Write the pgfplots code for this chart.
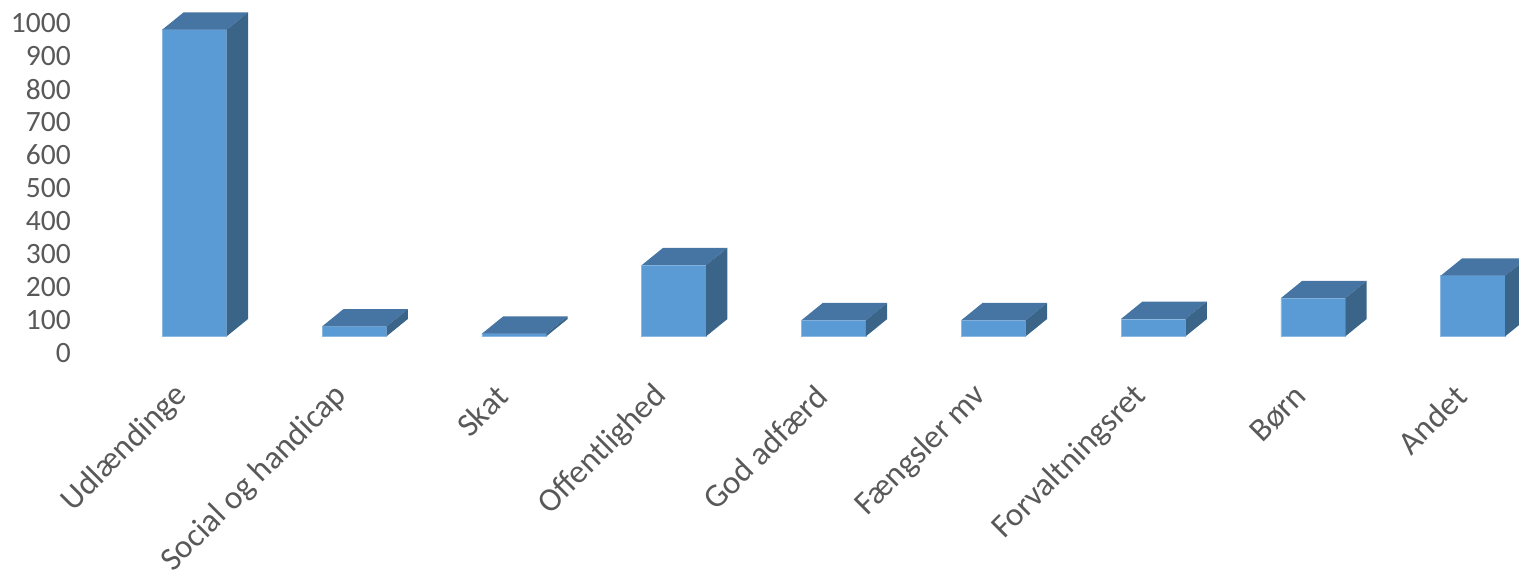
\documentclass[border=0pt]{standalone}
\usepackage{fontspec}
\setmainfont{Carlito}
\usepackage{pgfplots}
\usepackage{pgfplotstable}
\pgfplotsset{compat=1.18}

\definecolor{front}{HTML}{5B9BD5}
\definecolor{topface}{HTML}{4675A3}
\definecolor{sideface}{HTML}{3A6589}
\definecolor{labelgray}{HTML}{595959}

\pgfplotstableread{
x v
0 931
1 30
2 8
3 216
4 49
5 49
6 53
7 116
8 184
}\cases

\begin{document}
\begin{tikzpicture}
\path[use as bounding box] (0,0) rectangle (1519pt,574pt);
\begin{axis}[at={(0,0)},anchor=south west,
	scale only axis,width=1519pt,height=574pt,
	xmin=-1.2171,xmax=8.2885,ymin=-721.6,ymax=1021,
	axis line style={draw=none},major tick length=0pt,
	ytick={0,100,...,1000},
	xtick={0,...,8},
	xticklabels={Udlændinge,Social og handicap,Skat,Offentlighed,God adfærd,Fængsler mv,Forvaltningsret,Børn,Andet},
	scaled ticks=false,
	/pgf/number format/assume math mode=true,
	/pgf/number format/1000 sep={},
	tick label style={text=labelgray,inner sep=0pt},
	yticklabel style={font=\fontsize{29.5}{32}\selectfont,anchor=east,xshift=71pt,yshift=-16.4pt},
	xticklabel style={font=\fontsize{33}{35}\selectfont,rotate=45,anchor=east,xshift=120.9pt,yshift=137.9pt},
]
% front faces
\addplot[ybar,bar width=64.4pt,bar shift=0pt,fill=front,draw=front!70!white,line width=0.6pt] table[x=x,y=v] {\cases};
% top faces
\addplot[fill=topface,draw=none] coordinates {(-.2015,931) (.2015,931) (.3348,983.5) (-.0682,983.5)} -- cycle;
\addplot[fill=topface,draw=none] coordinates {(.7985,30) (1.2015,30) (1.3348,82.5) (.9318,82.5)} -- cycle;
\addplot[fill=topface,draw=none] coordinates {(1.7985,8) (2.2015,8) (2.3348,60.5) (1.9318,60.5)} -- cycle;
\addplot[fill=topface,draw=none] coordinates {(2.7985,216) (3.2015,216) (3.3348,268.5) (2.9318,268.5)} -- cycle;
\addplot[fill=topface,draw=none] coordinates {(3.7985,49) (4.2015,49) (4.3348,101.5) (3.9318,101.5)} -- cycle;
\addplot[fill=topface,draw=none] coordinates {(4.7985,49) (5.2015,49) (5.3348,101.5) (4.9318,101.5)} -- cycle;
\addplot[fill=topface,draw=none] coordinates {(5.7985,53) (6.2015,53) (6.3348,105.5) (5.9318,105.5)} -- cycle;
\addplot[fill=topface,draw=none] coordinates {(6.7985,116) (7.2015,116) (7.3348,168.5) (6.9318,168.5)} -- cycle;
\addplot[fill=topface,draw=none] coordinates {(7.7985,184) (8.2015,184) (8.3348,236.5) (7.9318,236.5)} -- cycle;
% side faces
\addplot[fill=sideface,draw=none] coordinates {(.2015,0) (.3348,52.5) (.3348,983.5) (.2015,931)} -- cycle;
\addplot[fill=sideface,draw=none] coordinates {(1.2015,0) (1.3348,52.5) (1.3348,82.5) (1.2015,30)} -- cycle;
\addplot[fill=sideface,draw=none] coordinates {(2.2015,0) (2.3348,52.5) (2.3348,60.5) (2.2015,8)} -- cycle;
\addplot[fill=sideface,draw=none] coordinates {(3.2015,0) (3.3348,52.5) (3.3348,268.5) (3.2015,216)} -- cycle;
\addplot[fill=sideface,draw=none] coordinates {(4.2015,0) (4.3348,52.5) (4.3348,101.5) (4.2015,49)} -- cycle;
\addplot[fill=sideface,draw=none] coordinates {(5.2015,0) (5.3348,52.5) (5.3348,101.5) (5.2015,49)} -- cycle;
\addplot[fill=sideface,draw=none] coordinates {(6.2015,0) (6.3348,52.5) (6.3348,105.5) (6.2015,53)} -- cycle;
\addplot[fill=sideface,draw=none] coordinates {(7.2015,0) (7.3348,52.5) (7.3348,168.5) (7.2015,116)} -- cycle;
\addplot[fill=sideface,draw=none] coordinates {(8.2015,0) (8.3348,52.5) (8.3348,236.5) (8.2015,184)} -- cycle;
\end{axis}
\end{tikzpicture}
\end{document}
